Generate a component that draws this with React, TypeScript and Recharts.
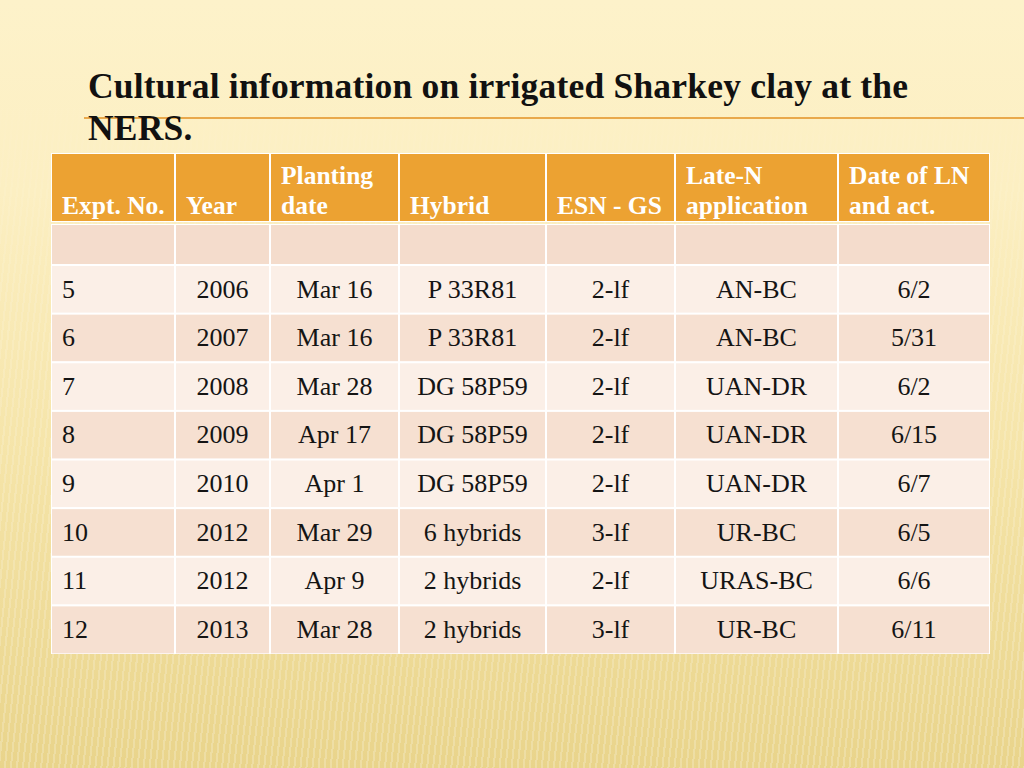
import React from 'react';
import { BarChart, Bar, XAxis, YAxis } from 'recharts';

// table content
const headers: string[][] = [
  ['Expt. No.'],
  ['Year'],
  ['Planting', 'date'],
  ['Hybrid'],
  ['ESN - GS'],
  ['Late-N', 'application'],
  ['Date of LN', 'and act.'],
];
const exptNo = ['5', '6', '7', '8', '9', '10', '11', '12'];
const years = ['2006', '2007', '2008', '2009', '2010', '2012', '2012', '2013'];
const plantingDates = ['Mar 16', 'Mar 16', 'Mar 28', 'Apr 17', 'Apr 1', 'Mar 29', 'Apr 9', 'Mar 28'];
const hybrids = ['P 33R81', 'P 33R81', 'DG 58P59', 'DG 58P59', 'DG 58P59', '6 hybrids', '2 hybrids', '2 hybrids'];
const esnGs = ['2-lf', '2-lf', '2-lf', '2-lf', '2-lf', '3-lf', '2-lf', '3-lf'];
const lateN = ['AN-BC', 'AN-BC', 'UAN-DR', 'UAN-DR', 'UAN-DR', 'UR-BC', 'URAS-BC', 'UR-BC'];
const dateOfLN = ['6/2', '5/31', '6/2', '6/15', '6/7', '6/5', '6/6', '6/11'];

// layout
const COL_WIDTHS = [124, 95, 129, 147, 129, 163, 152];
const TABLE_W = COL_WIDTHS.reduce((a, b) => a + b, 0);
const TABLE_X = 51;
const HEADER_Y = 153;
const HEADER_H = 69;
const BLANK_Y = 224;
const BLANK_H = 41;
const BODY_Y = 265;
const BODY_H = 389;

const FONT = "'Liberation Serif', 'Times New Roman', serif";
const ORANGE = '#eca232';
const ROW_LIGHT = '#fbefe7';
const ROW_DARK = '#f6e0d1';
const ROW_BLANK = '#f4dccc';

type Kind = 'header' | 'blank' | 'body';

const widthKeys = COL_WIDTHS.map((_, i) => `w${i}`);
const withWidths = (row: Record<string, unknown>) => {
  const r: Record<string, unknown> = { ...row };
  COL_WIDTHS.forEach((w, i) => (r[widthKeys[i]] = w));
  return r;
};

const headerRows = [withWidths({ id: 'h', cells: headers })];
const blankRows = [withWidths({ id: 'b', cells: headers.map(() => []) })];
const bodyRows = exptNo.map((n, i) =>
  withWidths({
    id: n,
    cells: [[n], [years[i]], [plantingDates[i]], [hybrids[i]], [esnGs[i]], [lateN[i]], [dateOfLN[i]]],
  })
);

const makeShape = (kind: Kind, col: number) => (props: any) => {
  const { x, y, width, height, payload, index } = props;
  const lines: string[] = payload.cells[col] || [];
  const fill = kind === 'header' ? ORANGE : kind === 'blank' ? ROW_BLANK : index % 2 === 0 ? ROW_LIGHT : ROW_DARK;
  const leftAlign = kind === 'header' || col === 0;
  const tx = leftAlign ? x + 11 : x + width / 2;
  return (
    <g>
      <rect x={x} y={y} width={width} height={height} fill={fill} stroke="#ffffff" strokeWidth={2} />
      {kind === 'header' &&
        lines.map((t, li) => (
          <text
            key={li}
            x={tx}
            y={y + (lines.length === 2 ? 31 + li * 30 : 61)}
            fill="#ffffff"
            fontFamily={FONT}
            fontWeight="bold"
            fontSize={25.5}
          >
            {t}
          </text>
        ))}
      {kind === 'body' &&
        lines.map((t, li) => (
          <text
            key={li}
            x={tx}
            y={y + height / 2 + 8}
            textAnchor={leftAlign ? 'start' : 'middle'}
            fill="#141414"
            fontFamily={FONT}
            fontSize={26}
          >
            {t}
          </text>
        ))}
    </g>
  );
};

const TableBand = ({ rows, height, kind }: { rows: any[]; height: number; kind: Kind }) => (
  <BarChart
    layout="vertical"
    width={TABLE_W}
    height={height}
    data={rows}
    margin={{ top: 0, right: 0, bottom: 0, left: 0 }}
    barCategoryGap={0}
  >
    <XAxis type="number" hide domain={[0, TABLE_W]} />
    <YAxis type="category" dataKey="id" hide />
    {widthKeys.map((k, ci) => (
      <Bar key={k} dataKey={k} stackId="t" isAnimationActive={false} shape={makeShape(kind, ci)} />
    ))}
  </BarChart>
);

export default function App() {
  return (
    <div
      style={{
        position: 'absolute',
        left: 0,
        top: 0,
        width: 1024,
        height: 768,
        overflow: 'hidden',
        background: 'linear-gradient(180deg, #fdf2ca 0%, #fcefc2 25%, #f5e4a8 60%, #e9d48b 100%)',
      }}
    >
      <div
        style={{
          position: 'absolute',
          inset: 0,
          background:
            'repeating-linear-gradient(96deg, rgba(255,255,255,0.22) 0px, rgba(255,255,255,0.22) 2px, rgba(0,0,0,0) 2px, rgba(0,0,0,0) 6px)',
          WebkitMaskImage: 'linear-gradient(180deg, rgba(0,0,0,0) 10%, rgba(0,0,0,0.6) 40%, rgba(0,0,0,1) 100%)',
          maskImage: 'linear-gradient(180deg, rgba(0,0,0,0) 10%, rgba(0,0,0,0.6) 40%, rgba(0,0,0,1) 100%)',
        }}
      />
      <svg width={1024} height={768} style={{ position: 'absolute', left: 0, top: 0 }}>
        <line x1={84} y1={118} x2={1024} y2={118} stroke="#e9a94c" strokeWidth={2} />
        <text x={88} y={98} fontFamily={FONT} fontWeight="bold" fontSize={35.5} letterSpacing={0.2} fill="#111111">
          Cultural information on irrigated Sharkey clay at the
        </text>
        <text x={88} y={140} fontFamily={FONT} fontWeight="bold" fontSize={35.5} letterSpacing={0.2} fill="#111111">
          NERS.
        </text>
      </svg>
      <div style={{ position: 'absolute', left: TABLE_X, top: HEADER_Y }}>
        <TableBand rows={headerRows} height={HEADER_H} kind="header" />
      </div>
      <div style={{ position: 'absolute', left: TABLE_X, top: BLANK_Y }}>
        <TableBand rows={blankRows} height={BLANK_H} kind="blank" />
      </div>
      <div style={{ position: 'absolute', left: TABLE_X, top: BODY_Y }}>
        <TableBand rows={bodyRows} height={BODY_H} kind="body" />
      </div>
    </div>
  );
}
